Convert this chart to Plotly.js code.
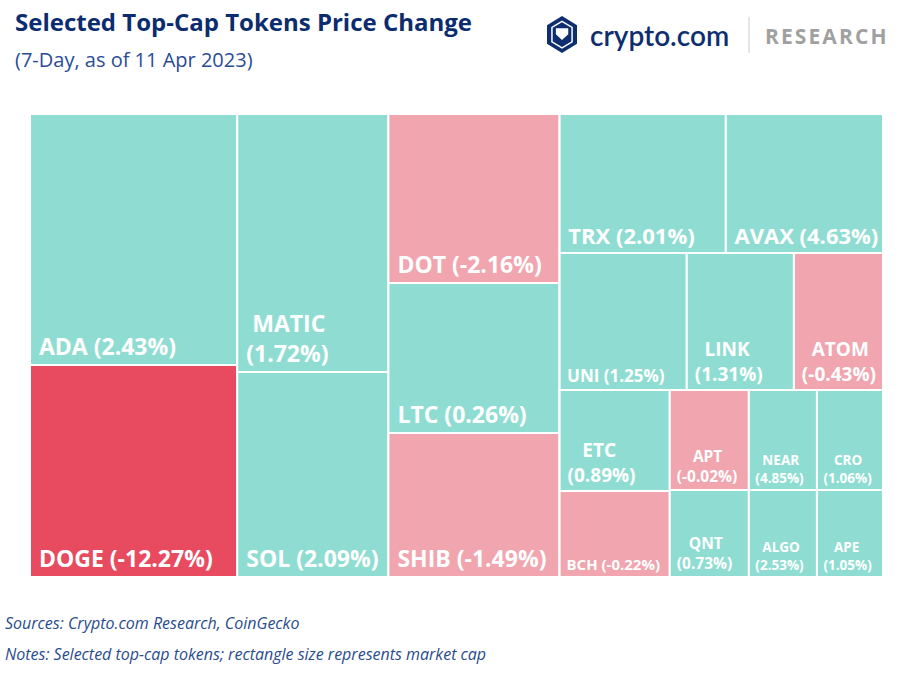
<!DOCTYPE html>
<html>
<head>
<meta charset="utf-8">
<script src="https://cdn.plot.ly/plotly-3.0.1.min.js"></script>
<style>html,body{margin:0;padding:0;background:#fff;}#chart{width:898px;height:673px;}</style>
</head>
<body>
<div id="chart"></div>
<script>
// Data
const tokens  = ["ADA","DOGE","MATIC","SOL","DOT","LTC","SHIB","TRX","AVAX","UNI","LINK","ATOM","ETC","BCH","APT","QNT","NEAR","ALGO","CRO","APE"];
const sizes   = [51957,43884,38958,30955,28899,25650,24624,23074,21823,17399,14659,12193,11110,9460,7900,6873,6800,5916,6600,5742];
const changes = [2.43,-12.27,1.72,2.09,-2.16,0.26,-1.49,2.01,4.63,1.25,1.31,-0.43,0.89,-0.22,-0.02,0.73,4.85,2.53,1.06,1.05];
// Layout grouping (invisible containers reproducing the reference arrangement)
const tokenGroup = ["C1","C1","C2","C2","C3","C3","C3","R1","R1","R2","R2","R2","K1","K1","K2","K2","K3","K3","K4","K4"];
const groupIds     = ["C1","C2","C3","C4","R1","R2","R3","K1","K2","K3","K4"];
const groupParents = ["","","","","C4","C4","C4","R3","R3","R3","R3"];
// Label styling
const twoLine   = ["MATIC","LINK","ATOM","ETC","APT","QNT","NEAR","ALGO","CRO","APE"];
const fontSizes = [23,23,23,23,23,23,23,22,22,17,19,19,19,15,15.5,15.5,13.5,13.5,13.5,13.5];

const NB = "\u00A0";
const cv = document.createElement("canvas").getContext("2d");
function w(txt, size){ cv.font = "bold " + size + "px 'Open Sans'"; return cv.measureText(txt).width; }
function fmt(v){ return "(" + v.toFixed(2) + "%)"; }

const labels = tokens.map((t,i)=>{
  const s = fontSizes[i];
  const p = fmt(changes[i]);
  if (twoLine.includes(t)) {
    const diff = (w(p,s) - w(t,s)) / 2;
    const n = Math.max(0, Math.round(diff / w(NB,s)));
    return NB + NB.repeat(n) + t + "<br>" + NB + p;
  }
  return NB + t + " " + p;
});
const colors = changes.map(v => v <= -5 ? "#E84A5F" : (v < 0 ? "#F0A5AF" : "#8FDDD2"));

const ids = groupIds.concat(tokens);
const parents = groupParents.concat(tokenGroup);
const values = groupIds.map(()=>0).concat(sizes);
const text = groupIds.map(()=>"").concat(labels);
const mcolors = groupIds.map(()=>"#ffffff").concat(colors);
const fsz = groupIds.map(()=>12).concat(fontSizes);

const trace = {
  type: "treemap",
  ids: ids,
  labels: ids,
  parents: parents,
  values: values,
  branchvalues: "remainder",
  text: text,
  texttemplate: "%{text}",
  textposition: "bottom left",
  textfont: {family: "Open Sans, sans-serif", color: "#ffffff", size: fsz, weight: "bold"},
  marker: {colors: mcolors, line: {color: "#ffffff", width: 2}, pad: {t:0,l:0,r:0,b:0}},
  tiling: {packing: "slice-dice", pad: 0},
  sort: false,
  hoverinfo: "label+value",
  pathbar: {visible: false}
};

const HS = "\u200A";
const research = "RESEARCH".split("").join(HS);

const layout = {
  width: 898, height: 673,
  margin: {l: 30, r: 15, t: 114, b: 96},
  paper_bgcolor: "#ffffff",
  showlegend: false,
  font: {family: "Open Sans, sans-serif"},
  annotations: [
    {text: "<b>Selected Top-Cap Tokens Price Change</b>", xref: "paper", yref: "paper", x: -0.02, y: 1.2, xanchor: "left", yanchor: "middle", showarrow: false, font: {size: 24, color: "#0B2C6E", family: "Open Sans, sans-serif"}},
    {text: "(7-Day, as of 11 Apr 2023)", x: -0.02, y: 1.117, xref: "paper", yref: "paper", xanchor: "left", yanchor: "middle", showarrow: false, font: {size: 20, color: "#2A4C96", family: "Open Sans, sans-serif"}},
    {text: "crypto.com", xref: "paper", yref: "paper", x: 0.6542, y: 1.1706, xanchor: "left", yanchor: "middle", showarrow: false, font: {size: 28, color: "#0E2E70", family: "Lato, sans-serif", weight: 600}},
    {text: "<b>" + research + "</b>", xref: "paper", yref: "paper", x: 1.0059, y: 1.1685, xanchor: "right", yanchor: "middle", showarrow: false, font: {size: 21, color: "#A0A0A0", family: "Open Sans, sans-serif"}},
    {text: "<i>Sources: Crypto.com Research, CoinGecko</i>", xref: "paper", yref: "paper", x: -0.032, y: -0.1, xanchor: "left", yanchor: "middle", showarrow: false, font: {size: 16, color: "#2A4C8C", family: "Open Sans, sans-serif"}},
    {text: "<i>Notes: Selected top-cap tokens; rectangle size represents market cap</i>", xref: "paper", yref: "paper", x: -0.032, y: -0.167, xanchor: "left", yanchor: "middle", showarrow: false, font: {size: 16, color: "#2A4C8C", family: "Open Sans, sans-serif"}}
  ],
  shapes: [
    {type: "path", xref: "paper", yref: "paper", path: "M 0.6237 1.2117 L 0.6413 1.1917 L 0.6413 1.1517 L 0.6237 1.1317 L 0.6061 1.1517 L 0.6061 1.1917 Z", fillcolor: "#0E2E70", line: {width: 0}},
    {type: "path", xref: "paper", yref: "paper", path: "M 0.6237 1.2 L 0.6355 1.187 L 0.6355 1.156 L 0.6237 1.143 L 0.6119 1.156 L 0.6119 1.187 Z", fillcolor: "rgba(0,0,0,0)", line: {color: "#ffffff", width: 1.5}},
    {type: "path", xref: "paper", yref: "paper", path: "M 0.6165 1.185 L 0.631 1.185 L 0.631 1.172 L 0.6237 1.16 L 0.6165 1.172 Z", fillcolor: "#ffffff", line: {width: 0}},
    {type: "line", xref: "paper", yref: "paper", x0: 0.8429, x1: 0.8429, y0: 1.1317, y1: 1.2095, line: {color: "#cccccc", width: 1}}
  ]
};

Plotly.newPlot("chart", [trace], layout, {displayModeBar: false, staticPlot: true});
</script>
</body>
</html>
